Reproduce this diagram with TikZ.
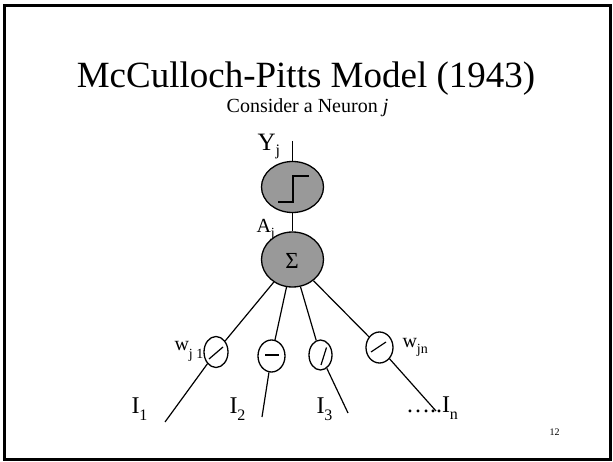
\documentclass[tikz,border=0pt]{standalone}
\usepackage{fontspec}
\setmainfont{Liberation Serif}
\usetikzlibrary{shapes.geometric}
\definecolor{nfill}{RGB}{153,153,153}
\tikzset{
  x=1pt, y=-1pt,
  txt/.style={inner sep=0pt, outer sep=0pt, anchor=base west},
  unit/.style={ellipse, draw, fill=nfill, line width=1.3pt, inner sep=0pt},
  wgt/.style={ellipse, draw, fill=white, line width=1.3pt, inner sep=0pt},
  conn/.style={line width=1.2pt},
  glyphline/.style={line width=1.2pt},
}
\begin{document}
\begin{tikzpicture}
\useasboundingbox (0,0) rectangle (613,462);
\draw[line width=2.5pt] (4.5,5.5) rectangle (610.5,459.5);

% texts
\node[inner sep=0pt, anchor=base] (title) at (306,88) {\fontsize{37}{40}\selectfont McCulloch-Pitts Model (1943)};
\node[inner sep=0pt, anchor=base] (sub) at (307.5,113) {\fontsize{20}{22}\selectfont Consider a Neuron \textit{j}};
\node[txt] (ylab) at (257.5,151) {\fontsize{25}{25}\selectfont Y\raisebox{-5pt}{\fontsize{16}{16}\selectfont j}};
\node[txt] (alab) at (256.5,233) {\fontsize{20}{20}\selectfont A\raisebox{-5pt}{\fontsize{14}{14}\selectfont j}};

% units
\node[unit, minimum width=62pt, minimum height=51pt] (step) at (292.5,187) {};
\node[unit, minimum width=62pt, minimum height=55pt] (sigma) at (292.5,259.5) {};
\node[inner sep=0pt] (sig) at (292,261) {\fontsize{23}{23}\selectfont Σ};
\draw[line width=2pt] (278,202) -- (293,202) -- (293,176) -- (309,176);

\coordinate (ytop) at (292.5,141);
\draw[conn] (ytop) -- (step);
\draw[conn] (step) -- (sigma);

% weights
\node[wgt, minimum width=24pt, minimum height=31pt] (w1) at (216,352) {};
\node[wgt, minimum width=27pt, minimum height=32pt] (w2) at (271.5,356) {};
\node[wgt, minimum width=23pt, minimum height=30pt] (w3) at (320.5,355) {};
\node[wgt, minimum width=27pt, minimum height=31pt] (w4) at (379.5,347.5) {};

\draw[glyphline] (209,359) -- (223,347);
\draw[glyphline] (265,355) -- (279,355);
\draw[glyphline] (321,365) -- (326.5,347.5);
\draw[glyphline] (371,352) -- (386,342);

\coordinate (e1) at (165,422);
\coordinate (e2) at (262,417);
\coordinate (e3) at (348,413);
\coordinate (e4) at (436,411);

\draw[conn] (sigma) -- (w1);
\draw[conn] (sigma) -- (w2);
\draw[conn] (sigma) -- (w3);
\draw[conn] (sigma) -- (w4);
\draw[conn] (w1) -- (e1);
\draw[conn] (w2) -- (e2);
\draw[conn] (w3) -- (e3);
\draw[conn] (w4) -- (e4);

% weight labels
\node[txt] (wl1) at (174.5,350) {\fontsize{20}{20}\selectfont w\raisebox{-8pt}{\fontsize{14}{14}\selectfont j 1}};
\node[txt] (wln) at (402.5,347) {\fontsize{20}{20}\selectfont w\raisebox{-6pt}{\fontsize{14}{14}\selectfont jn}};

% input labels
\node[txt] (i1) at (131.5,413) {\fontsize{24}{24}\selectfont I\raisebox{-7pt}{\fontsize{16}{16}\selectfont 1}};
\node[txt] (i2) at (229.5,413) {\fontsize{24}{24}\selectfont I\raisebox{-7pt}{\fontsize{16}{16}\selectfont 2}};
\node[txt] (i3) at (316.5,413) {\fontsize{24}{24}\selectfont I\raisebox{-7pt}{\fontsize{16}{16}\selectfont 3}};
\node[txt] (in) at (406,412) {\fontsize{24}{24}\selectfont …..I\raisebox{-7pt}{\fontsize{16}{16}\selectfont n}};

\node[txt] (pg) at (549.5,435) {\fontsize{10}{10}\selectfont 12};
\end{tikzpicture}
\end{document}
